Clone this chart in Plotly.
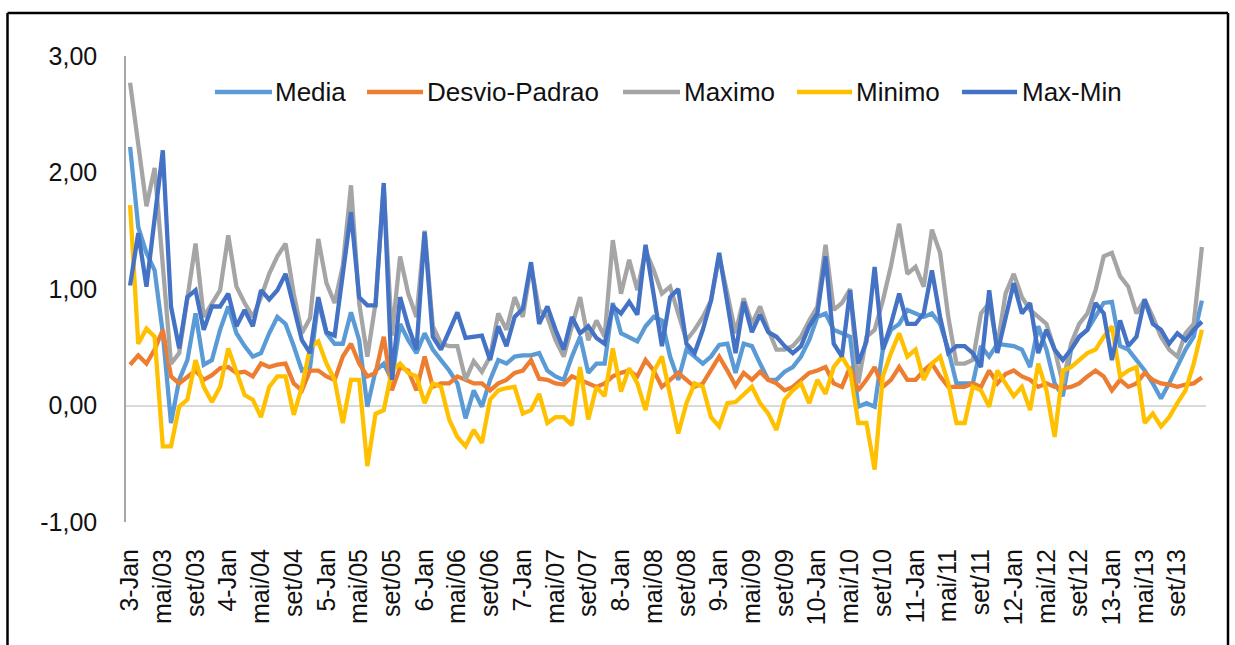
import plotly.graph_objects as go

# Monthly categories, Jan 2003 .. Dec 2013 (January entries use the "N-Jan" form)
MONTHS = ["Jan", "fev", "mar", "abr", "mai", "jun", "jul", "ago", "set", "out", "nov", "dez"]
YEARS = list(range(3, 14))
categories = [f"{y}-Jan" if m == 0 else f"{MONTHS[m]}/{y:02d}" for y in YEARS for m in range(12)]

tick_labels = [
    "3-Jan", "mai/03", "set/03", "4-Jan", "mai/04", "set/04", "5-Jan", "mai/05", "set/05",
    "6-Jan", "mai/06", "set/06", "7-Jan", "mai/07", "set/07", "8-Jan", "mai/08", "set/08",
    "9-Jan", "mai/09", "set/09", "10-Jan", "mai/10", "set/10", "11-Jan", "mai/11", "set/11",
    "12-Jan", "mai/12", "set/12", "13-Jan", "mai/13", "set/13",
]

y_tick_values = [-1, 0, 1, 2, 3]
y_tick_labels = ["-1,00", "0,00", "1,00", "2,00", "3,00"]

media = [
    2.22, 1.53, 1.31, 1.16, 0.62, -0.15, 0.22, 0.39, 0.79, 0.35, 0.39, 0.65,
    0.85, 0.62, 0.51, 0.42, 0.45, 0.62, 0.76, 0.70, 0.51, 0.30, 0.33, 0.90,
    0.62, 0.53, 0.53, 0.80, 0.56, -0.01, 0.30, 0.36, 0.22, 0.70, 0.56, 0.45,
    0.62, 0.48, 0.39, 0.30, 0.19, -0.11, 0.13, -0.01, 0.22, 0.39, 0.36, 0.42,
    0.43, 0.43, 0.45, 0.30, 0.25, 0.22, 0.42, 0.59, 0.28, 0.36, 0.36, 0.88,
    0.62, 0.59, 0.55, 0.68, 0.76, 0.73, 0.42, 0.22, 0.48, 0.42, 0.36, 0.42,
    0.52, 0.53, 0.28, 0.53, 0.51, 0.36, 0.22, 0.22, 0.29, 0.33, 0.42, 0.56,
    0.76, 0.79, 0.65, 0.62, 0.59, -0.01, 0.02, -0.01, 0.48, 0.65, 0.70, 0.82,
    0.79, 0.76, 0.79, 0.70, 0.48, 0.19, 0.19, 0.19, 0.51, 0.42, 0.53, 0.52,
    0.51, 0.48, 0.33, 0.68, 0.48, 0.19, 0.08, 0.48, 0.59, 0.65, 0.76, 0.88,
    0.89, 0.51, 0.48, 0.39, 0.30, 0.19, 0.06, 0.19, 0.33, 0.48, 0.59, 0.90,
]

desvio_padrao = [
    0.35, 0.43, 0.36, 0.48, 0.65, 0.25, 0.19, 0.25, 0.30, 0.22, 0.26, 0.32,
    0.33, 0.28, 0.29, 0.25, 0.36, 0.33, 0.35, 0.36, 0.19, 0.13, 0.30, 0.30,
    0.25, 0.22, 0.42, 0.53, 0.36, 0.25, 0.28, 0.59, 0.13, 0.33, 0.30, 0.13,
    0.42, 0.16, 0.19, 0.19, 0.25, 0.22, 0.19, 0.19, 0.13, 0.19, 0.22, 0.28,
    0.30, 0.39, 0.23, 0.22, 0.19, 0.18, 0.25, 0.22, 0.19, 0.16, 0.19, 0.25,
    0.28, 0.30, 0.25, 0.39, 0.30, 0.16, 0.22, 0.28, 0.22, 0.16, 0.19, 0.30,
    0.42, 0.30, 0.17, 0.28, 0.22, 0.29, 0.22, 0.19, 0.13, 0.16, 0.22, 0.28,
    0.30, 0.33, 0.19, 0.16, 0.33, 0.13, 0.22, 0.33, 0.16, 0.22, 0.33, 0.22,
    0.22, 0.30, 0.36, 0.25, 0.16, 0.16, 0.16, 0.19, 0.16, 0.30, 0.19, 0.27,
    0.30, 0.25, 0.22, 0.16, 0.19, 0.16, 0.15, 0.16, 0.19, 0.25, 0.30, 0.25,
    0.13, 0.22, 0.16, 0.19, 0.28, 0.22, 0.19, 0.18, 0.16, 0.18, 0.19, 0.24,
]

maximo = [
    2.77, 2.25, 1.71, 2.04, 1.20, 0.36, 0.45, 0.90, 1.39, 0.76, 0.88, 0.99,
    1.46, 1.02, 0.88, 0.76, 0.93, 1.13, 1.28, 1.39, 0.96, 0.62, 0.75, 1.43,
    1.05, 0.88, 1.20, 1.89, 0.88, 0.42, 0.88, 1.88, 0.60, 1.28, 0.96, 0.76,
    1.50, 0.68, 0.53, 0.51, 0.51, 0.22, 0.38, 0.29, 0.42, 0.79, 0.65, 0.93,
    0.76, 1.20, 0.82, 0.76, 0.56, 0.42, 0.68, 0.93, 0.56, 0.73, 0.59, 1.42,
    0.96, 1.25, 0.99, 1.33, 1.16, 0.96, 1.02, 0.79, 0.56, 0.65, 0.76, 0.90,
    1.28, 0.96, 0.62, 0.92, 0.70, 0.85, 0.65, 0.48, 0.48, 0.51, 0.59, 0.73,
    0.85, 1.38, 0.82, 0.88, 1.00, 0.19, 0.59, 0.65, 0.90, 1.20, 1.56, 1.13,
    1.19, 1.02, 1.51, 1.31, 0.76, 0.36, 0.36, 0.39, 0.79, 0.88, 0.51, 0.96,
    1.13, 0.93, 0.82, 0.76, 0.70, 0.48, 0.19, 0.53, 0.70, 0.79, 0.99, 1.28,
    1.31, 1.11, 1.02, 0.79, 0.91, 0.76, 0.59, 0.48, 0.42, 0.62, 0.70, 1.36,
]

minimo = [
    1.72, 0.53, 0.66, 0.59, -0.35, -0.35, -0.01, 0.05, 0.39, 0.16, 0.03, 0.16,
    0.49, 0.30, 0.09, 0.05, -0.10, 0.16, 0.25, 0.25, -0.08, 0.16, 0.50, 0.55,
    0.36, 0.22, -0.15, 0.22, 0.22, -0.52, -0.07, -0.04, 0.30, 0.36, 0.28, 0.25,
    0.02, 0.19, 0.16, -0.12, -0.27, -0.35, -0.21, -0.32, 0.05, 0.13, 0.15, 0.16,
    -0.07, -0.04, 0.10, -0.15, -0.10, -0.10, -0.17, 0.33, -0.12, 0.16, 0.08, 0.49,
    0.12, 0.32, 0.19, -0.04, 0.29, 0.42, 0.08, -0.24, 0.02, 0.19, 0.16, -0.10,
    -0.18, 0.02, 0.03, 0.10, 0.16, 0.02, -0.07, -0.21, 0.05, 0.13, 0.19, 0.02,
    0.22, 0.10, 0.33, 0.42, 0.30, -0.15, -0.15, -0.55, 0.25, 0.45, 0.62, 0.42,
    0.48, 0.22, 0.36, 0.42, 0.19, -0.15, -0.15, 0.16, 0.13, -0.01, 0.30, 0.19,
    0.08, 0.16, -0.04, 0.36, 0.13, -0.27, 0.30, 0.33, 0.39, 0.45, 0.48, 0.59,
    0.68, 0.25, 0.30, 0.33, -0.15, -0.07, -0.18, -0.10, 0.02, 0.13, 0.36, 0.65,
]

max_min = [
    1.03, 1.48, 1.02, 1.60, 2.19, 0.85, 0.49, 0.93, 0.99, 0.65, 0.85, 0.85,
    0.96, 0.68, 0.82, 0.68, 0.99, 0.91, 0.99, 1.13, 0.85, 0.56, 0.45, 0.93,
    0.63, 0.60, 1.13, 1.66, 0.93, 0.86, 0.86, 1.91, 0.22, 0.93, 0.68, 0.48,
    1.49, 0.59, 0.48, 0.65, 0.80, 0.58, 0.59, 0.60, 0.39, 0.68, 0.51, 0.76,
    0.83, 1.23, 0.70, 0.85, 0.65, 0.48, 0.76, 0.62, 0.68, 0.58, 0.53, 0.85,
    0.79, 0.89, 0.78, 1.38, 0.95, 0.51, 0.93, 1.00, 0.53, 0.45, 0.65, 0.90,
    1.31, 0.90, 0.45, 0.89, 0.63, 0.78, 0.63, 0.59, 0.51, 0.45, 0.51, 0.68,
    0.79, 1.28, 0.53, 0.42, 0.99, 0.36, 0.55, 1.19, 0.48, 0.70, 0.96, 0.70,
    0.70, 0.79, 1.16, 0.76, 0.45, 0.51, 0.51, 0.45, 0.33, 0.99, 0.45, 0.75,
    1.05, 0.79, 0.88, 0.45, 0.65, 0.48, 0.39, 0.48, 0.59, 0.65, 0.88, 0.79,
    0.39, 0.73, 0.51, 0.59, 0.91, 0.70, 0.65, 0.53, 0.62, 0.56, 0.65, 0.72,
]

series = [
    ("Media", media, "#5B9BD5"),
    ("Desvio-Padrao", desvio_padrao, "#ED7D31"),
    ("Maximo", maximo, "#A5A5A5"),
    ("Minimo", minimo, "#FFC000"),
    ("Max-Min", max_min, "#4472C4"),
]

W, H = 1235, 645
PLOT_L, PLOT_R, PLOT_T, PLOT_B = 126, 1206, 56, 522
FONT = "Liberation Sans, Arial, sans-serif"
TEXT_COLOR = "#111111"


def px_x(px):
    return (px - PLOT_L) / (PLOT_R - PLOT_L)


def px_y(py):
    return (PLOT_B - py) / (PLOT_B - PLOT_T)


fig = go.Figure()
for name, values, color in series:
    fig.add_trace(go.Scatter(
        x=categories, y=values, mode="lines", name=name,
        line=dict(color=color, width=4.3), showlegend=False,
    ))

# Legend row drawn above the lines: (line start px, line end px, text start px)
legend_pos = [(215, 272, 273), (367, 423, 425), (623, 680, 682), (797, 852, 854), (962, 1017, 1020)]
LEG_Y = px_y(92)
shapes = []
annotations = []
for (name, _, color), (x0, x1, xt) in zip(series, legend_pos):
    shapes.append(dict(type="line", xref="paper", yref="paper",
                       x0=px_x(x0), x1=px_x(x1), y0=LEG_Y, y1=LEG_Y,
                       line=dict(color=color, width=4.5)))
    annotations.append(dict(xref="paper", yref="paper", x=px_x(xt), y=LEG_Y,
                            xanchor="left", yanchor="middle", text=name, showarrow=False,
                            font=dict(family=FONT, size=26, color=TEXT_COLOR)))

# Outer frame (left, top, right edges)
fx0, fx1 = px_x(7.5), px_x(1228)
fy_top, fy_bot = px_y(13), px_y(650)
for x0, y0, x1, y1 in [(fx0, fy_bot, fx0, fy_top), (fx0, fy_top, fx1, fy_top), (fx1, fy_top, fx1, fy_bot)]:
    shapes.append(dict(type="line", xref="paper", yref="paper", x0=x0, y0=y0, x1=x1, y1=y1,
                       line=dict(color="#000000", width=2.5)))

fig.update_layout(
    width=W, height=H, autosize=False,
    margin=dict(l=PLOT_L, r=W - PLOT_R, t=PLOT_T, b=H - PLOT_B, pad=0),
    paper_bgcolor="white", plot_bgcolor="white",
    font=dict(family=FONT, size=25, color=TEXT_COLOR),
    shapes=shapes, annotations=annotations,
    xaxis=dict(
        type="category", range=[-0.5, len(categories) - 0.5],
        tickmode="array", tickvals=tick_labels, ticktext=tick_labels,
        tickangle=-90, ticks="outside", ticklen=16, tickcolor="rgba(0,0,0,0)",
        showgrid=False, zeroline=False, showline=False,
        tickfont=dict(family=FONT, size=25, color=TEXT_COLOR),
    ),
    yaxis=dict(
        range=[-1, 3], tickmode="array", tickvals=y_tick_values, ticktext=y_tick_labels,
        ticks="outside", ticklen=22, tickcolor="rgba(0,0,0,0)",
        showgrid=False, zeroline=True, zerolinecolor="#D9D9D9", zerolinewidth=1.5,
        showline=True, linecolor="#A6A6A6", linewidth=1.5,
        tickfont=dict(family=FONT, size=25, color=TEXT_COLOR),
    ),
)

fig.write_html("out.html")
